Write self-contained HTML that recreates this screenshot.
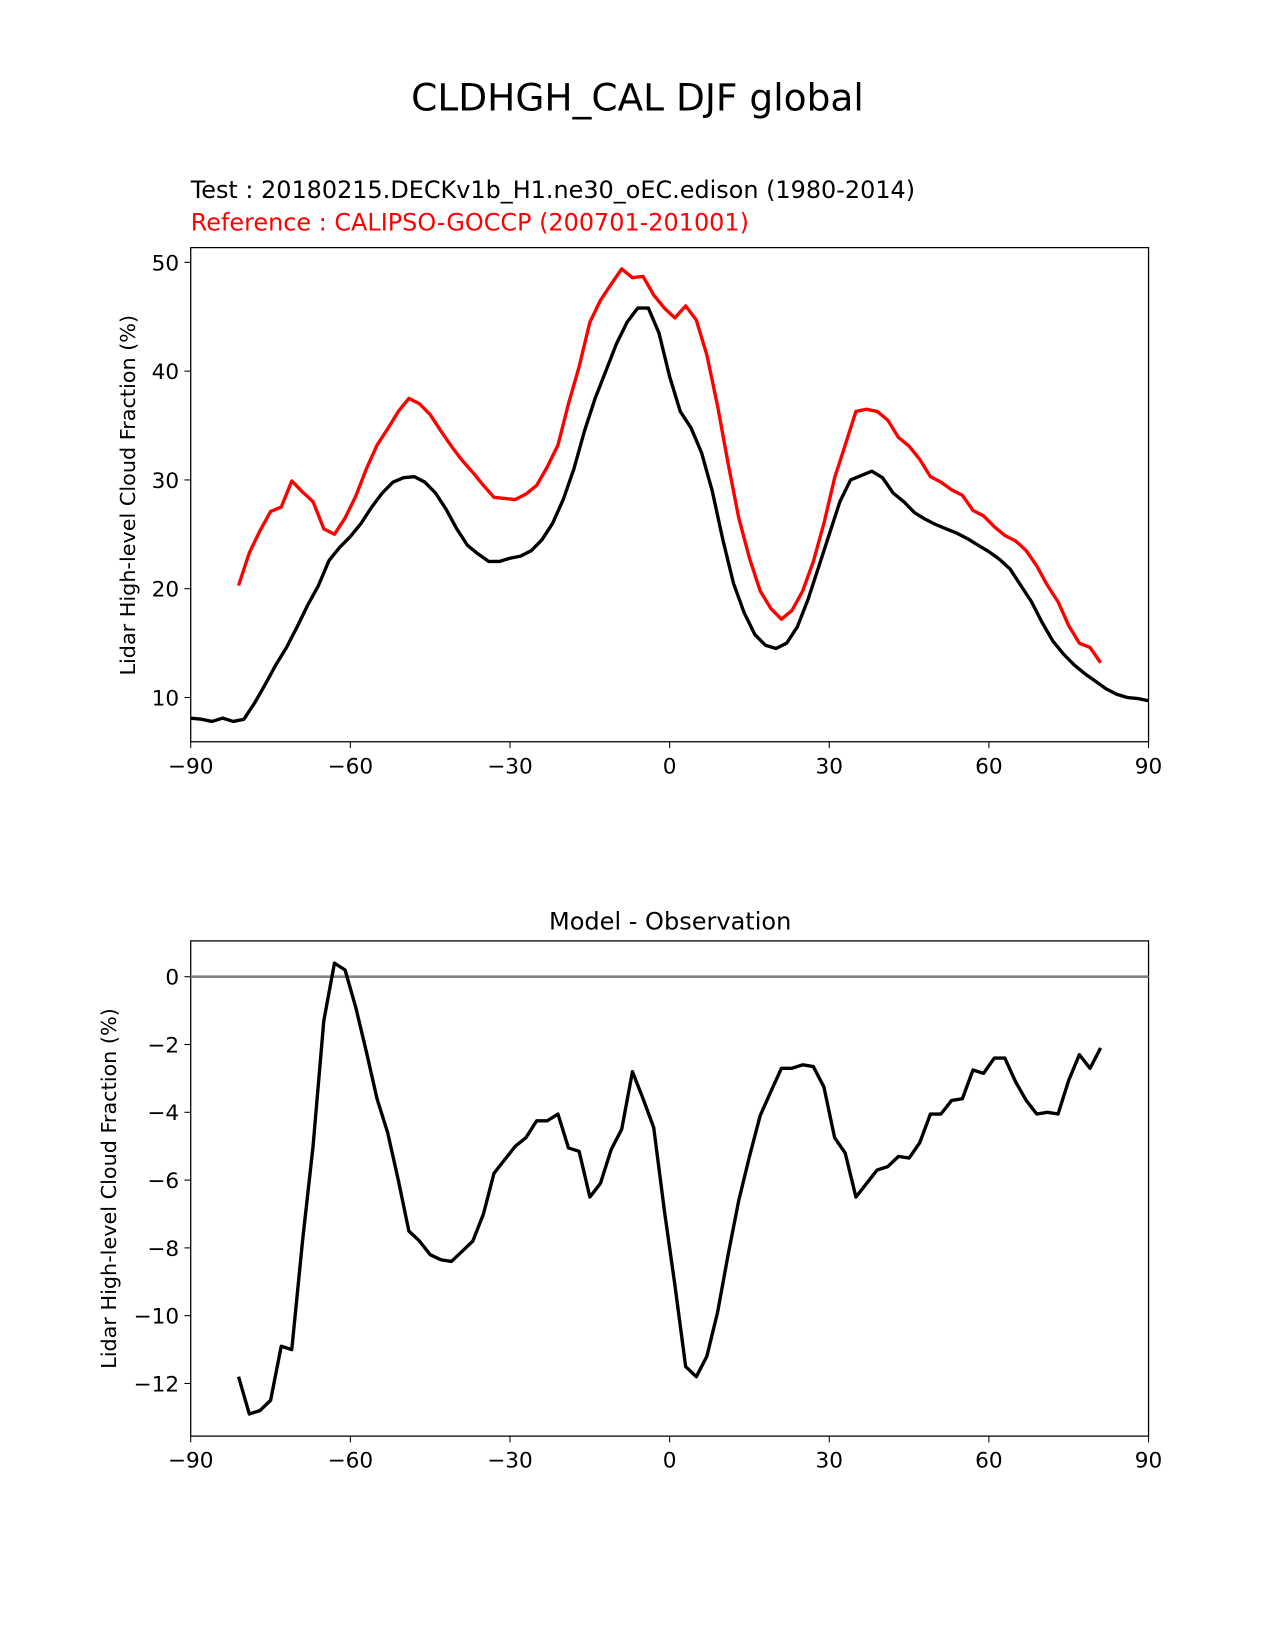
<!DOCTYPE html>
<html><head><meta charset="utf-8"><style>
body{margin:0;background:#fff}
svg{display:block;font-family:"DejaVu Sans","Liberation Sans",sans-serif}
</style></head><body>
<svg id="c" width="1275" height="1650" viewBox="0 0 1210 1566" preserveAspectRatio="none"></svg>
<script>
const latBlack=[-90,-88,-86,-84,-82,-80,-78,-76,-74,-72,-70,-68,-66,-64,-62,-60,-58,-56,-54,-52,-50,-48,-46,-44,-42,-40,-38,-36,-34,-32,-30,-28,-26,-24,-22,-20,-18,-16,-14,-12,-10,-8,-6,-4,-2,0,2,4,6,8,10,12,14,16,18,20,22,24,26,28,30,32,34,36,38,40,42,44,46,48,50,52,54,56,58,60,62,64,66,68,70,72,74,76,78,80,82,84,86,88,90];
const modelVals=[8.1,8.0,7.8,8.1,7.8,8.0,9.5,11.2,13.0,14.6,16.5,18.5,20.3,22.6,23.8,24.8,26.0,27.5,28.8,29.8,30.2,30.3,29.8,28.8,27.3,25.5,24.0,23.2,22.5,22.5,22.8,23.0,23.5,24.5,26.0,28.2,31.0,34.5,37.5,40.0,42.5,44.5,45.8,45.8,43.5,39.5,36.3,34.8,32.5,29.0,24.5,20.5,17.8,15.8,14.8,14.5,15.0,16.5,19.0,22.0,25.0,28.0,30.0,30.4,30.8,30.2,28.8,28.0,27.0,26.4,25.9,25.5,25.1,24.6,24.0,23.4,22.7,21.8,20.3,18.8,16.9,15.2,14.0,13.0,12.2,11.5,10.8,10.3,10.0,9.9,9.7];
const latObs=[-81,-79,-77,-75,-73,-71,-69,-67,-65,-63,-61,-59,-57,-55,-53,-51,-49,-47,-45,-43,-41,-39,-37,-35,-33,-31,-29,-27,-25,-23,-21,-19,-17,-15,-13,-11,-9,-7,-5,-3,-1,1,3,5,7,9,11,13,15,17,19,21,23,25,27,29,31,33,35,37,39,41,43,45,47,49,51,53,55,57,59,61,63,65,67,69,71,73,75,77,79,81];
const obsVals=[20.3,23.3,25.3,27.1,27.5,29.9,28.9,28.0,25.5,25.0,26.5,28.5,31.0,33.2,34.7,36.3,37.5,37.0,36.0,34.5,33.1,31.8,30.7,29.5,28.4,28.3,28.2,28.7,29.5,31.2,33.2,37.0,40.4,44.5,46.5,48.0,49.4,48.6,48.7,47.0,45.8,44.9,46.0,44.7,41.5,36.8,31.5,26.5,22.8,19.8,18.2,17.2,18.0,19.8,22.5,26.0,30.2,33.2,36.3,36.5,36.3,35.5,33.9,33.1,31.9,30.3,29.8,29.1,28.6,27.2,26.7,25.7,24.9,24.4,23.5,22.1,20.3,18.8,16.6,15.0,14.6,13.2];
const diffVals=[-11.8,-12.9,-12.8,-12.5,-10.9,-11.0,-7.8,-5.0,-1.3,0.4,0.2,-0.9,-2.2,-3.6,-4.6,-6.0,-7.5,-7.8,-8.2,-8.35,-8.4,-8.1,-7.8,-7.0,-5.8,-5.4,-5.0,-4.75,-4.25,-4.25,-4.05,-5.05,-5.15,-6.5,-6.1,-5.1,-4.5,-2.8,-3.6,-4.45,-6.9,-9.1,-11.5,-11.8,-11.2,-9.9,-8.2,-6.6,-5.3,-4.1,-3.4,-2.7,-2.7,-2.6,-2.65,-3.25,-4.75,-5.2,-6.5,-6.1,-5.7,-5.6,-5.3,-5.35,-4.9,-4.05,-4.05,-3.65,-3.6,-2.75,-2.85,-2.4,-2.4,-3.1,-3.65,-4.05,-4.0,-4.05,-3.05,-2.3,-2.7,-2.1];
const xTicks=[-90,-60,-30,0,30,60,90];
const yTicksTop=[10,20,30,40,50];
const yTicksBot=[0,-2,-4,-6,-8,-10,-12];

const NS="http://www.w3.org/2000/svg",svg=document.getElementById('c');
function mk(t,a,txt){const e=document.createElementNS(NS,t);for(const k in a)e.setAttribute(k,a[k]);if(txt!==undefined)e.textContent=txt;svg.appendChild(e);return e;}
const X0=181,X1=1090;
const x=v=>X0+(v+90)/180*(X1-X0);
const yTop=v=>662-(v-10)*10.325;
const yBot=v=>927-v*32.17;
const fmt=v=>v<0?'\u2212'+Math.abs(v):''+v;

function axes(top,bot,yf,yt,name){
  let r=mk('rect',{x:X0,y:top,width:X1-X0,height:bot-top,fill:'none',stroke:'#000','stroke-width':1.2});
  
  xTicks.forEach(t=>{mk('line',{x1:x(t),x2:x(t),y1:bot,y2:bot+6,stroke:'#000'});
    let e=mk('text',{x:x(t),y:bot+30,'text-anchor':'middle','font-size':20.5},fmt(t));
    });
  yt.forEach(t=>{mk('line',{x1:X0-6,x2:X0,y1:yf(t),y2:yf(t),stroke:'#000'});
    let e=mk('text',{x:X0-11,y:yf(t)+7.5,'text-anchor':'end','font-size':20.5},fmt(t));
    });
}
function line(lats,vals,yf,color,name){
  const d=lats.map((l,i)=>(i?'L':'M')+x(l).toFixed(1)+','+yf(vals[i]).toFixed(1)).join('');
  let p=mk('path',{d:d,fill:'none',stroke:color,'stroke-width':3.2,'stroke-linejoin':'round'});
  
}
let t=mk('text',{x:605,y:105,'text-anchor':'middle','font-size':35.6},'CLDHGH_CAL DJF global');

t=mk('text',{x:181,y:188,'font-size':22.7},'Test : 20180215.DECKv1b_H1.ne30_oEC.edison (1980-2014)');

t=mk('text',{x:181,y:219,'font-size':22.7,fill:'#f00'},'Reference : CALIPSO-GOCCP (200701-201001)');


axes(235,704,yTop,yTicksTop,'top-plot');
line(latBlack,modelVals,yTop,'#000','model-line');
line(latObs,obsVals,yTop,'#f00','observation-line');
t=mk('text',{x:0,y:0,'font-size':19.7,'text-anchor':'middle',transform:'translate(128,470) rotate(-90)'},'Lidar High-level Cloud Fraction (%)');


axes(893,1363,yBot,yTicksBot,'bottom-plot');
let z=mk('line',{x1:X0,x2:X1,y1:yBot(0),y2:yBot(0),stroke:'#808080','stroke-width':2.5});

line(latObs,diffVals,yBot,'#000','difference-line');
t=mk('text',{x:636,y:882,'font-size':22.8,'text-anchor':'middle'},'Model - Observation');

t=mk('text',{x:0,y:0,'font-size':19.7,'text-anchor':'middle',transform:'translate(110,1128) rotate(-90)'},'Lidar High-level Cloud Fraction (%)');

</script>
</body></html>
